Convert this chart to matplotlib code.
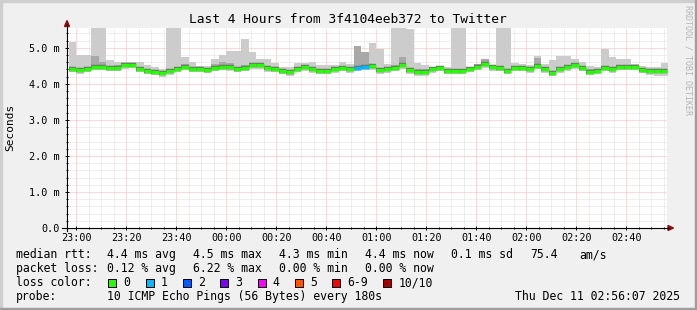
import numpy as np
import matplotlib
matplotlib.use("Agg")
from matplotlib import pyplot as plt
from matplotlib.patches import Rectangle, Polygon
from matplotlib.lines import Line2D

# ---- data (3 min steps, values in ms, first step ends at 23:00) ----
med = [4.42, 4.38, 4.42, 4.48, 4.48, 4.45, 4.45, 4.51, 4.53, 4.40,
       4.37, 4.33, 4.29, 4.35, 4.42, 4.48, 4.40, 4.40, 4.38, 4.44,
       4.48, 4.46, 4.42, 4.44, 4.51, 4.51, 4.44, 4.42, 4.37, 4.33,
       4.42, 4.46, 4.40, 4.37, 4.37, 4.40, 4.44, 4.40, 4.44, 4.47,
       4.49, 4.38, 4.40, 4.44, 4.51, 4.38, 4.34, 4.34, 4.40, 4.44,
       4.36, 4.36, 4.35, 4.42, 4.48, 4.54, 4.46, 4.44, 4.35, 4.44,
       4.44, 4.40, 4.50, 4.40, 4.31, 4.40, 4.46, 4.51, 4.44, 4.34,
       4.35, 4.44, 4.40, 4.47, 4.47, 4.47, 4.38, 4.35, 4.35, 4.35]
ping_max = [5.16, 4.81, 4.81, 5.60, 5.60, 4.65, 4.62, 4.62, 4.62, 4.62,
            4.51, 4.47, 4.40, 5.60, 5.60, 4.74, 4.60, 4.50, 4.50, 4.68,
            4.79, 4.90, 4.90, 5.24, 4.88, 4.68, 4.68, 4.59, 4.47, 4.47,
            4.59, 4.59, 4.62, 4.51, 4.51, 4.51, 4.60, 4.56, 5.05, 4.88,
            5.13, 4.96, 4.56, 5.60, 5.60, 5.53, 4.58, 4.51, 4.47, 4.49,
            4.47, 5.60, 5.60, 4.47, 4.51, 4.65, 4.51, 5.60, 5.60, 4.59,
            4.56, 4.51, 4.76, 4.56, 4.65, 4.77, 4.77, 4.70, 4.62, 4.49,
            4.47, 4.96, 4.74, 4.68, 4.68, 4.56, 4.49, 4.47, 4.47, 4.59]
ping_min = [4.34, 4.27, 4.33, 4.38, 4.38, 4.37, 4.37, 4.42, 4.43, 4.32,
            4.28, 4.24, 4.19, 4.25, 4.33, 4.38, 4.32, 4.32, 4.29, 4.36,
            4.38, 4.37, 4.33, 4.35, 4.41, 4.42, 4.34, 4.32, 4.27, 4.22,
            4.33, 4.37, 4.31, 4.28, 4.27, 4.30, 4.35, 4.31, 4.36, 4.38,
            4.39, 4.28, 4.30, 4.35, 4.41, 4.28, 4.22, 4.22, 4.31, 4.35,
            4.28, 4.27, 4.26, 4.33, 4.39, 4.45, 4.37, 4.35, 4.26, 4.35,
            4.35, 4.31, 4.40, 4.31, 4.22, 4.31, 4.37, 4.42, 4.35, 4.25,
            4.26, 4.35, 4.31, 4.38, 4.38, 4.38, 4.29, 4.24, 4.23, 4.23]
mid_hi = [4.47, 4.44, 4.47, 4.78, 4.62, 4.50, 4.52, 4.56, 4.57, 4.46,
          4.42, 4.38, 4.34, 4.42, 4.47, 4.55, 4.46, 4.45, 4.43, 4.56,
          4.60, 4.58, 4.48, 4.52, 4.58, 4.57, 4.50, 4.47, 4.42, 4.39,
          4.48, 4.52, 4.47, 4.42, 4.42, 4.45, 4.50, 4.46, 5.05, 4.88,
          4.55, 4.45, 4.46, 4.52, 4.74, 4.45, 4.40, 4.40, 4.45, 4.49,
          4.41, 4.42, 4.41, 4.47, 4.54, 4.70, 4.52, 4.50, 4.41, 4.50,
          4.50, 4.46, 4.72, 4.46, 4.37, 4.47, 4.53, 4.58, 4.50, 4.40,
          4.41, 4.50, 4.46, 4.53, 4.53, 4.52, 4.44, 4.41, 4.41, 4.41]
mid_lo = [4.38, 4.33, 4.38, 4.43, 4.43, 4.41, 4.41, 4.47, 4.48, 4.36,
          4.32, 4.28, 4.24, 4.30, 4.38, 4.43, 4.36, 4.36, 4.33, 4.40,
          4.43, 4.42, 4.38, 4.40, 4.46, 4.47, 4.39, 4.37, 4.32, 4.28,
          4.38, 4.42, 4.35, 4.32, 4.32, 4.35, 4.40, 4.36, 4.40, 4.43,
          4.44, 4.33, 4.35, 4.40, 4.46, 4.33, 4.28, 4.28, 4.36, 4.40,
          4.32, 4.31, 4.30, 4.38, 4.44, 4.50, 4.42, 4.40, 4.30, 4.40,
          4.40, 4.36, 4.45, 4.36, 4.26, 4.35, 4.42, 4.47, 4.40, 4.30,
          4.30, 4.40, 4.36, 4.43, 4.43, 4.43, 4.33, 4.29, 4.29, 4.29]
lost = [0] * 38 + [1, 1] + [0] * 40

tick_labels = ['23:00', '23:20', '23:40', '00:00', '00:20', '00:40',
               '01:00', '01:20', '01:40', '02:00', '02:20', '02:40']
y_labels = ['0.0', '1.0 m', '2.0 m', '3.0 m', '4.0 m', '5.0 m']

loss_names = ['0', '1', '2', '3', '4', '5', '6-9', '10/10']
loss_colors = ['#26ff00', '#00b8ff', '#0059ff', '#7e00ff',
               '#ff00ff', '#ff5500', '#ff0000', '#a10000']

rtt_row = ['4.4 ms avg', '4.5 ms max', '4.3 ms min', '4.4 ms now', '0.1 ms sd', '75.4', 'am/s']
loss_row = ['0.12 % avg', '6.22 % max', '0.00 % min', '0.00 % now']

title = 'Last 4 Hours from 3f4104eeb372 to Twitter'
probe = '10 ICMP Echo Pings (56 Bytes) every 180s'
stamp = 'Thu Dec 11 02:56:07 2025'

# ---- layout ----
W, H = 697, 310
STEP = 3.0
X0, X1 = -3.883, 236.117
MONO = 'DejaVu Sans Mono'
plt.rcParams['font.family'] = MONO


def fx(px):
    return px / W


def fy(py):
    return 1 - py / H


fig = plt.figure(figsize=(W / 100, H / 100), dpi=100, facecolor='#f0f0f0')
ax = fig.add_axes([fx(66.5), fy(228), 600 / W, 200 / H])
ax.set_facecolor('white')
ax.set_xlim(X0, X1)
ax.set_ylim(0, 5.55)

ax.set_xticks(np.arange(0, 240, 20))
ax.set_xticklabels(tick_labels)
ax.set_xticks(np.arange(0, 237, 5), minor=True)
ax.set_yticks(np.arange(0, 6, 1.0))
ax.set_yticklabels(y_labels)
ax.set_yticks(np.arange(0, 5.55, 0.2), minor=True)
ax.grid(which='minor', color='#dedede', ls=(0, (1, 1)), lw=0.72)
ax.grid(which='major', color='#f6b4b4', ls=(0, (1, 1)), lw=0.72)
ax.set_axisbelow(True)
for s in ax.spines.values():
    s.set_visible(False)
ax.tick_params(which='major', length=3, width=0.7, direction='inout', labelsize=7.3)
ax.tick_params(which='minor', length=1.5, width=0.7, direction='inout')
ax.tick_params(axis='x', pad=2)
ax.tick_params(axis='y', pad=3.5)

# smoke
t_end = np.arange(len(med)) * STEP
t_start = np.maximum(t_end - STEP, X0)
edges = np.append(t_start, t_end[-1])


def band(lo, hi, color):
    lo = np.append(lo, lo[-1])
    hi = np.append(hi, hi[-1])
    ax.fill_between(edges, lo, hi, step='post', color=color, lw=0, zorder=2)


band(ping_min, ping_max, '#cccccc')
band(mid_lo, mid_hi, '#a8a8a8')

ax.hlines(med, t_start, t_end, colors='#6a6a6a', lw=3.2, zorder=3, capstyle='butt')
ax.hlines(med, t_start, t_end, colors=[loss_colors[l] for l in lost], lw=2.5,
          zorder=4, capstyle='butt')

# axis lines with arrows
fig.add_artist(Line2D([fx(67), fx(67)], [fy(231), fy(24)], color='black', lw=0.8))
fig.add_artist(Line2D([fx(62), fx(669)], [fy(228), fy(228)], color='black', lw=0.8))
fig.add_artist(Polygon([(fx(64.5), fy(26.5)), (fx(69.5), fy(26.5)), (fx(67), fy(20.5))],
                       closed=True, color='#8b1010', transform=fig.transFigure))
fig.add_artist(Polygon([(fx(668), fy(225.5)), (fx(668), fy(230.5)), (fx(673.5), fy(228))],
                       closed=True, color='#8b1010', transform=fig.transFigure))

# frame
fig.add_artist(Rectangle((0, fy(2)), 1, 2 / H, color='#cfcfcf', transform=fig.transFigure))
fig.add_artist(Rectangle((0, 0), 2 / W, 1, color='#cfcfcf', transform=fig.transFigure))
fig.add_artist(Rectangle((0, 0), 1, 2 / H, color='#9e9e9e', transform=fig.transFigure))
fig.add_artist(Rectangle((fx(695), 0), 2 / W, 1, color='#9e9e9e', transform=fig.transFigure))

# texts
fig.text(fx(348), fy(23.3), title, ha='center', va='baseline', fontsize=9.3)
fig.text(fx(10.5), fy(127), 'Seconds', rotation=90, ha='center', va='center', fontsize=8)
fig.text(fx(688), fy(60), 'RRDTOOL / TOBI OETIKER', rotation=270, ha='center',
         va='center', fontsize=6, color='#b5b5b5')

LEG = 8.3
fig.text(fx(16), fy(258), 'median rtt:', fontsize=LEG, va='baseline')
for x, s in zip([107.3, 193.3, 278.7, 365, 451, 530.7, 579.3], rtt_row):
    fig.text(fx(x), fy(258), s, fontsize=LEG, va='baseline')
fig.text(fx(16), fy(272), 'packet loss:', fontsize=LEG, va='baseline')
for x, s in zip([107.3, 192.7, 278.7, 365], loss_row):
    fig.text(fx(x), fy(272), s, fontsize=LEG, va='baseline')
fig.text(fx(16), fy(286), 'loss color:', fontsize=LEG, va='baseline')
bx = 108.3
for name, col in zip(loss_names, loss_colors):
    fig.add_artist(Rectangle((fx(bx), fy(286.5)), 8 / W, 8 / H, facecolor=col,
                             edgecolor='black', lw=0.7, transform=fig.transFigure))
    fig.text(fx(bx + 15), fy(286), name, fontsize=LEG, va='baseline')
    bx += 30.4 + 6.93 * len(name)
fig.text(fx(16), fy(300), 'probe:', fontsize=LEG, va='baseline')
fig.text(fx(107.3), fy(300), probe, fontsize=LEG, va='baseline')
fig.text(fx(680), fy(300), stamp, fontsize=LEG, va='baseline', ha='right')

fig.savefig('out.png', dpi=100, facecolor=fig.get_facecolor())
